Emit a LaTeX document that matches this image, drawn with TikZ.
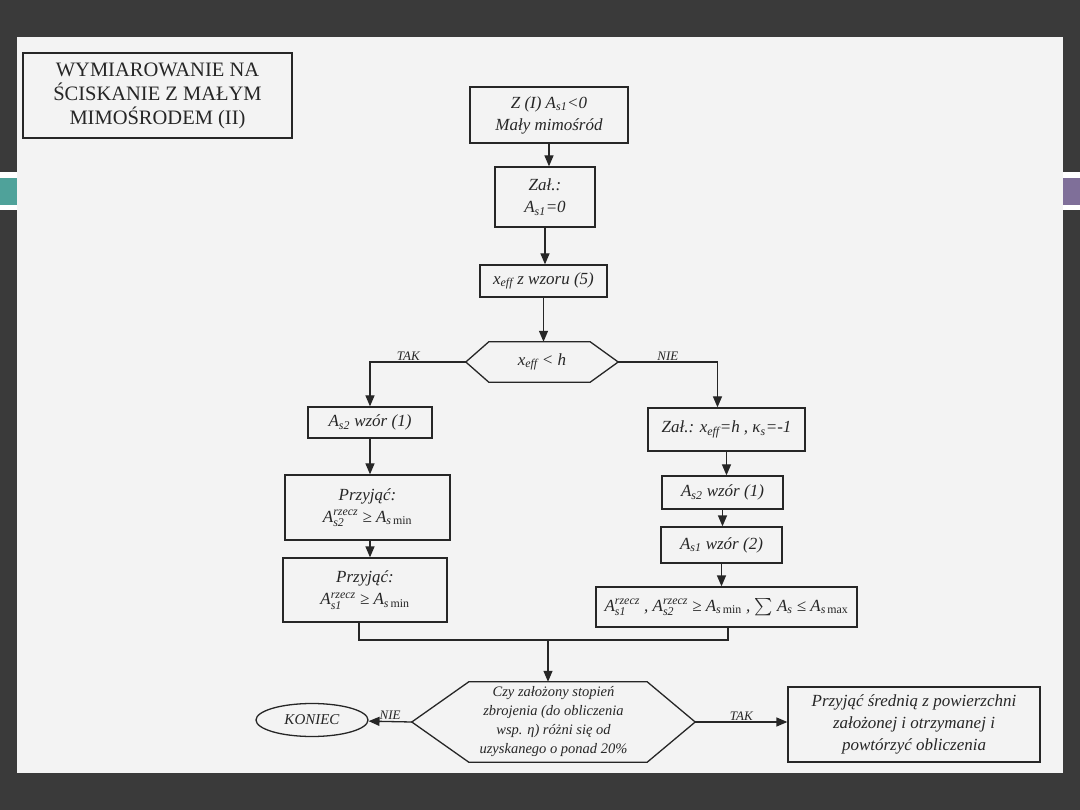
\documentclass[tikz,border=0pt]{standalone}
\usepackage{fontspec}
\usepackage{amsmath}
\setmainfont{Liberation Serif}
\usetikzlibrary{arrows.meta,calc,shapes.geometric}

\definecolor{bgdark}{HTML}{3A3A3A}
\definecolor{paper}{HTML}{F3F3F3}
\definecolor{tealbar}{HTML}{4FA29A}
\definecolor{purplebar}{HTML}{7F6F99}
\definecolor{ink}{HTML}{262626}

\newcommand{\mysub}[1]{\textsubscript{#1}}
\newcommand{\rz}[1]{$^{\text{rzecz}}_{\text{#1}}$}

\begin{document}
\begin{tikzpicture}[x=1pt,y=-1pt,
  box/.style={draw=ink, line width=1.3pt, text=ink, inner sep=0pt, align=center,
    font=\fontsize{17}{22}\selectfont\itshape},
  arr/.style={draw=ink, line width=1.3pt, -{Triangle[width=9pt,length=11pt]}},
  ln/.style={draw=ink, line width=1.3pt},
  lab/.style={text=ink, font=\fontsize{13}{15}\selectfont\itshape, inner sep=1pt, anchor=south}]

\useasboundingbox (0,0) rectangle (1080,810);
\fill[bgdark] (0,0) rectangle (1080,810);
\fill[white] (0,172) rectangle (17,210);
\fill[tealbar] (0,178) rectangle (17,205);
\fill[white] (1063,172) rectangle (1080,210);
\fill[purplebar] (1063,178) rectangle (1080,205);
\fill[paper] (17,37) rectangle (1063,773);

% title
\node[box, font=\fontsize{20.5}{24}\selectfont, minimum width=269pt, minimum height=85pt] (title) at (157.5,95.5)
  {WYMIAROWANIE NA\\ŚCISKANIE Z MAŁYM\\MIMOŚRODEM (II)};

% main column
\node[box, minimum width=158pt, minimum height=56pt] (b1) at (549,115) {Z (I) A\mysub{s1}<0\\Mały mimośród};
\node[box, minimum width=100pt, minimum height=60pt] (b2) at (545,197) {Zał.:\\A\mysub{s1}=0};
\node[box, minimum width=127pt, minimum height=32pt] (b3) at (543.5,281) {x\mysub{eff} z wzoru (5)};
\node[text=ink, inner sep=0pt, minimum width=152pt, minimum height=40pt,
  font=\fontsize{17}{22}\selectfont\itshape] (h1) at (542,362) {x\mysub{eff} < h};
\draw[ln] (h1.west) -- ($(h1.north west)+(23,0)$) -- ($(h1.north east)+(-28,0)$) -- (h1.east)
  -- ($(h1.south east)+(-28,0)$) -- ($(h1.south west)+(23,0)$) -- cycle;

\draw[arr] (b1.south) -- (b1.south |- b2.north);
\draw[arr] (b2.south) -- (b2.south |- b3.north);
\draw[arr] (b3.south) -- (b3.south |- h1.north);

% left branch
\node[box, minimum width=124pt, minimum height=31pt] (l1) at (370,422.5) {A\mysub{s2} wzór (1)};
\node[box, minimum width=165pt, minimum height=65pt] (l2) at (367.5,507.5)
  {Przyjąć:\\A\rz{s2} ≥ A\mysub{s\,\upshape min}};
\node[box, minimum width=164pt, minimum height=64pt] (l3) at (365,590)
  {Przyjąć:\\A\rz{s1} ≥ A\mysub{s\,\upshape min}};

\draw[arr] (h1.west) -| node[pos=0.3, lab] {TAK} (l1.north);
\draw[arr] (l1.south) -- (l1.south |- l2.north);
\draw[arr] ($(l2.south)+(2.5,0)$) -- ($(l2.south |- l3.north)+(2.5,0)$);

% right branch
\node[box, minimum width=157pt, minimum height=43pt] (r1) at (726.5,429.5) {Zał.: x\mysub{eff}=h , κ\mysub{s}=-1};
\node[box, minimum width=121pt, minimum height=33pt] (r2) at (722.5,492.5) {A\mysub{s2} wzór (1)};
\node[box, minimum width=121pt, minimum height=36pt] (r3) at (721.5,545) {A\mysub{s1} wzór (2)};
\node[box, minimum width=261pt, minimum height=40pt] (r4) at (726.5,607)
  {A\rz{s1} , A\rz{s2} ≥ A\mysub{s\,\upshape min} , $\sum$ A\mysub{s} ≤ A\mysub{s\,\upshape max}};

\draw[arr] (h1.east) -| node[pos=0.25, lab] {NIE} ($(r1.north)+(-9,0)$);
\draw[arr] (r1.south) -- (r1.south |- r2.north);
\draw[arr] (r2.south) -- (r2.south |- r3.north);
\draw[arr] (r3.south) -- (r3.south |- r4.north);

% merge
\coordinate (m) at (548,640);
\draw[ln] ($(l3.south)+(-6,0)$) |- (m);
\draw[ln] ($(r4.south)+(1.5,0)$) |- (m);

% bottom decision
\node[text=ink, inner sep=0pt, minimum width=283pt, minimum height=80pt, align=center,
  font=\fontsize{14.5}{19}\selectfont\itshape] (h2) at (553.5,722)
  {Czy założony stopień\\zbrojenia (do obliczenia\\wsp. η) różni się od\\uzyskanego o ponad 20\%};
\draw[ln] (h2.west) -- ($(h2.north west)+(57,0)$) -- ($(h2.north east)+(-48,0)$) -- (h2.east)
  -- ($(h2.south east)+(-48,0)$) -- ($(h2.south west)+(57,0)$) -- cycle;
\draw[arr] (m) -- (m |- h2.north);

\node[draw=ink, line width=1.3pt, ellipse, text=ink, inner sep=0pt, minimum width=112pt, minimum height=33pt,
  font=\fontsize{15}{18}\selectfont\itshape] (k) at (312,720) {KONIEC};
\draw[arr] (h2.west) -- node[lab] {NIE} (k);

\node[box, minimum width=252pt, minimum height=75pt] (rb) at (914,724.5)
  {Przyjąć średnią z powierzchni\\założonej i otrzymanej i\\powtórzyć obliczenia};
\draw[arr] (h2.east) -- node[lab] {TAK} (h2.east -| rb.west);

\end{tikzpicture}
\end{document}
